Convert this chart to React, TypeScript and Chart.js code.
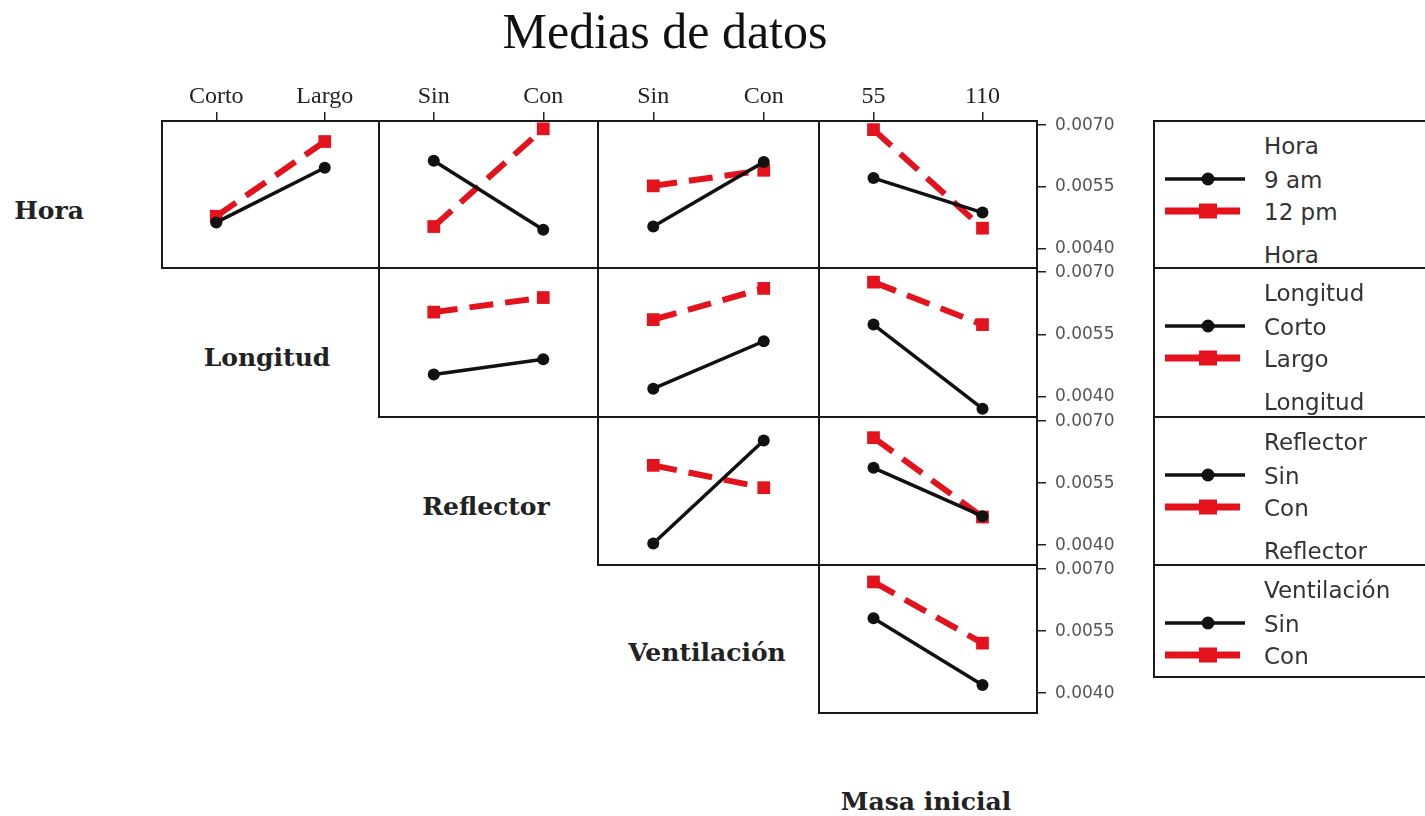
import React, { useEffect, useRef } from 'react';
import { Chart, registerables } from 'chart.js';

Chart.register(...registerables);

// ---- Labels -------------------------------------------------------------
const chartTitle = 'Medias de datos';
const rowFactors = ['Hora', 'Longitud', 'Reflector', 'Ventilación'];
const rowLevels = [
  ['9 am', '12 pm'],
  ['Corto', 'Largo'],
  ['Sin', 'Con'],
  ['Sin', 'Con'],
];
const lastFactor = 'Masa inicial';
const colLevels = [
  ['Corto', 'Largo'],
  ['Sin', 'Con'],
  ['Sin', 'Con'],
  ['55', '110'],
];
const yTicks = [0.004, 0.0055, 0.007];
const yMin = 0.00352;
const yMax = 0.0071;

// ---- Interaction means (first level = black, second level = red) --------
const horaLongitud9am = [0.00463, 0.00596];
const horaLongitud12pm = [0.00478, 0.0066];
const horaReflector9am = [0.00613, 0.00445];
const horaReflector12pm = [0.00453, 0.00691];
const horaVentilacion9am = [0.00453, 0.0061];
const horaVentilacion12pm = [0.00552, 0.0059];
const horaMasa9am = [0.00571, 0.00487];
const horaMasa12pm = [0.00689, 0.00449];

const longitudReflectorCorto = [0.00454, 0.00491];
const longitudReflectorLargo = [0.00604, 0.00639];
const longitudVentilacionCorto = [0.0042, 0.00534];
const longitudVentilacionLargo = [0.00586, 0.00661];
const longitudMasaCorto = [0.00574, 0.00372];
const longitudMasaLargo = [0.00676, 0.00574];

const reflectorVentilacionSin = [0.00404, 0.00653];
const reflectorVentilacionCon = [0.00593, 0.00539];
const reflectorMasaSin = [0.00587, 0.0047];
const reflectorMasaCon = [0.0066, 0.00468];

const ventilacionMasaSin = [0.00581, 0.0042];
const ventilacionMasaCon = [0.00669, 0.00521];

const panels = [
  { row: 0, col: 0, first: horaLongitud9am, second: horaLongitud12pm },
  { row: 0, col: 1, first: horaReflector9am, second: horaReflector12pm },
  { row: 0, col: 2, first: horaVentilacion9am, second: horaVentilacion12pm },
  { row: 0, col: 3, first: horaMasa9am, second: horaMasa12pm },
  { row: 1, col: 1, first: longitudReflectorCorto, second: longitudReflectorLargo },
  { row: 1, col: 2, first: longitudVentilacionCorto, second: longitudVentilacionLargo },
  { row: 1, col: 3, first: longitudMasaCorto, second: longitudMasaLargo },
  { row: 2, col: 2, first: reflectorVentilacionSin, second: reflectorVentilacionCon },
  { row: 2, col: 3, first: reflectorMasaSin, second: reflectorMasaCon },
  { row: 3, col: 3, first: ventilacionMasaSin, second: ventilacionMasaCon },
];

// ---- Layout & style -----------------------------------------------------
const COL_EDGES = [162, 379, 598, 819, 1037];
const ROW_EDGES = [121, 268, 417, 565, 713];
const PAD = 4;
const TOP_AXIS = 40;
const RIGHT_AXIS = 110;
const BLACK = '#111111';
const RED = 'rgb(228, 18, 28)';
const FRAME = '#1a1a1a';

const LEGEND_LEFT = 1154;
const LEGEND_BOTTOM = 677;
const LEGEND_TEXT_X = 1264;

const framePlugin = {
  id: 'panelFrame',
  beforeDatasetsDraw(chart: any) {
    const { ctx, chartArea } = chart;
    const { left, top, right, bottom } = chartArea;
    ctx.save();
    ctx.strokeStyle = FRAME;
    ctx.lineWidth = 2;
    ctx.strokeRect(left, top, right - left, bottom - top);
    ctx.restore();
  },
};

type PanelProps = { row: number; col: number; first: number[]; second: number[] };

function Panel({ row, col, first, second }: PanelProps) {
  const ref = useRef<HTMLCanvasElement>(null);
  const showTop = row === 0;
  const showRight = col === 3;
  const w = COL_EDGES[col + 1] - COL_EDGES[col];
  const h = ROW_EDGES[row + 1] - ROW_EDGES[row];
  const cw = w + 2 * PAD + (showRight ? RIGHT_AXIS : 0);
  const ch = h + 2 * PAD + (showTop ? TOP_AXIS : 0);
  const left = COL_EDGES[col] - PAD;
  const top = ROW_EDGES[row] - PAD - (showTop ? TOP_AXIS : 0);

  useEffect(() => {
    if (!ref.current) return;
    const chart = new Chart(ref.current, {
      type: 'line',
      data: {
        labels: colLevels[col],
        datasets: [
          {
            label: rowLevels[row][0],
            data: first,
            borderColor: BLACK,
            backgroundColor: BLACK,
            borderWidth: 3.5,
            pointStyle: 'circle',
            pointRadius: 6,
            pointHoverRadius: 6,
            pointBackgroundColor: BLACK,
            pointBorderColor: BLACK,
            pointBorderWidth: 0,
            tension: 0,
          },
          {
            label: rowLevels[row][1],
            data: second,
            borderColor: RED,
            backgroundColor: RED,
            borderWidth: 6,
            borderDash: [24, 12],
            pointStyle: 'rect',
            pointRadius: 9,
            pointHoverRadius: 9,
            pointBackgroundColor: RED,
            pointBorderColor: RED,
            pointBorderWidth: 0,
            tension: 0,
          },
        ],
      },
      options: {
        responsive: false,
        animation: false,
        devicePixelRatio: 1,
        layout: { padding: PAD, autoPadding: false },
        plugins: {
          legend: { display: false },
          tooltip: { enabled: false },
          title: { display: false },
        },
        scales: {
          x: {
            type: 'category',
            position: 'top',
            offset: true,
            display: showTop,
            border: { display: false },
            grid: {
              offset: false,
              drawOnChartArea: false,
              drawTicks: true,
              tickLength: 9,
              lineWidth: 1.5,
              color: '#222222',
            },
            ticks: {
              padding: 1,
              color: '#222222',
              font: { family: 'Liberation Serif', size: 24 },
              maxRotation: 0,
              autoSkip: false,
            },
            afterFit: (s: any) => {
              s.height = showTop ? TOP_AXIS : 0;
              s.paddingLeft = 0;
              s.paddingRight = 0;
            },
          },
          y: {
            type: 'linear',
            position: 'right',
            min: yMin,
            max: yMax,
            display: showRight,
            border: { display: false },
            grid: {
              drawOnChartArea: false,
              drawTicks: true,
              tickLength: 9,
              lineWidth: 1.5,
              color: '#222222',
            },
            afterBuildTicks: (s: any) => {
              s.ticks = yTicks.map((v) => ({ value: v }));
            },
            ticks: {
              padding: 9,
              color: '#555555',
              font: { family: 'DejaVu Sans', size: 17 },
              callback: (v: any) => Number(v).toFixed(4),
            },
            afterFit: (s: any) => {
              s.width = showRight ? RIGHT_AXIS : 0;
              s.paddingTop = 0;
              s.paddingBottom = 0;
            },
          },
        },
      },
      plugins: [framePlugin],
    } as any);
    return () => chart.destroy();
  }, [row, col, first, second]);

  return (
    <canvas
      ref={ref}
      width={cw}
      height={ch}
      style={{ position: 'absolute', left, top, width: cw, height: ch }}
    />
  );
}

function Text({
  x,
  y,
  children,
  style,
  start,
}: {
  x: number;
  y: number;
  children: React.ReactNode;
  style?: React.CSSProperties;
  start?: boolean;
}) {
  return (
    <div
      style={{
        position: 'absolute',
        left: x,
        top: y,
        transform: `translate(${start ? '0' : '-50%'}, -50%)`,
        whiteSpace: 'nowrap',
        lineHeight: 1,
        ...style,
      }}
    >
      {children}
    </div>
  );
}

const factorStyle: React.CSSProperties = {
  fontFamily: '"DejaVu Serif", serif',
  fontWeight: 'bold',
  fontSize: 25,
  color: '#222222',
};

const legendTextStyle: React.CSSProperties = {
  fontFamily: '"DejaVu Sans", sans-serif',
  fontSize: 23,
  color: '#333333',
};

function LegendSymbol({ y, kind }: { y: number; kind: 'black' | 'red' }) {
  return (
    <svg
      width={90}
      height={20}
      style={{ position: 'absolute', left: 1160, top: y - 10 }}
    >
      {kind === 'black' ? (
        <>
          <line x1={5} y1={10} x2={85} y2={10} stroke={BLACK} strokeWidth={3.5} />
          <circle cx={48} cy={10} r={6.5} fill={BLACK} />
        </>
      ) : (
        <>
          <line x1={5} y1={10} x2={80} y2={10} stroke={RED} strokeWidth={7} />
          <rect x={39} y={2.5} width={18} height={15} fill={RED} />
        </>
      )}
    </svg>
  );
}

function LegendBlock({ index }: { index: number }) {
  const top = ROW_EDGES[index];
  const bottom = index === rowFactors.length - 1 ? LEGEND_BOTTOM : ROW_EDGES[index + 1];
  const name = rowFactors[index];
  const [a, b] = rowLevels[index];
  const showFooter = index < rowFactors.length - 1;
  return (
    <>
      <div
        style={{
          position: 'absolute',
          left: LEGEND_LEFT - 1,
          top: top - 1,
          width: 320,
          height: bottom - top + 2,
          border: `2px solid ${FRAME}`,
          boxSizing: 'border-box',
        }}
      />
      <Text x={LEGEND_TEXT_X} y={top + 25} start style={legendTextStyle}>
        {name}
      </Text>
      <LegendSymbol y={top + 58} kind="black" />
      <Text x={LEGEND_TEXT_X} y={top + 59} start style={legendTextStyle}>
        {a}
      </Text>
      <LegendSymbol y={top + 90} kind="red" />
      <Text x={LEGEND_TEXT_X} y={top + 91} start style={legendTextStyle}>
        {b}
      </Text>
      {showFooter && (
        <Text x={LEGEND_TEXT_X} y={top + 134} start style={legendTextStyle}>
          {name}
        </Text>
      )}
    </>
  );
}

// Row-factor captions sit in the empty lower-left cells of the matrix.
const factorCaptions = [
  { text: rowFactors[0], x: 49, y: 210 },
  { text: rowFactors[1], x: 267, y: 357 },
  { text: rowFactors[2], x: 486, y: 506 },
  { text: rowFactors[3], x: 707, y: 652 },
  { text: lastFactor, x: 926, y: 801 },
];

export default function App() {
  return (
    <div
      style={{
        position: 'absolute',
        left: 0,
        top: 0,
        width: 1425,
        height: 816,
        overflow: 'hidden',
        background: '#ffffff',
      }}
    >
      <Text
        x={665}
        y={31}
        style={{ fontFamily: '"Liberation Serif", serif', fontSize: 50, color: '#111111' }}
      >
        {chartTitle}
      </Text>
      {factorCaptions.map((c) => (
        <Text key={c.text} x={c.x} y={c.y} style={factorStyle}>
          {c.text}
        </Text>
      ))}
      {panels.map((p) => (
        <Panel key={`${p.row}-${p.col}`} {...p} />
      ))}
      {rowFactors.map((_, i) => (
        <LegendBlock key={i} index={i} />
      ))}
    </div>
  );
}
